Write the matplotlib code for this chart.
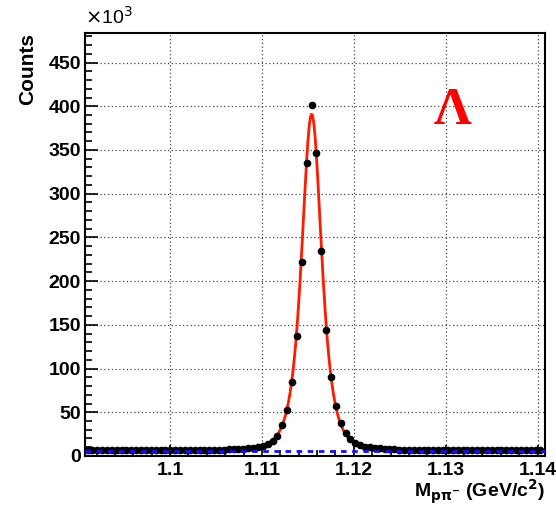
import matplotlib
matplotlib.use('Agg')
import matplotlib.pyplot as plt
import numpy as np
from matplotlib.ticker import MultipleLocator

# histogram binning (GeV/c^2)
x_lo = 1.09075
bin_width = 0.00053

# counts per bin, in units of 10^3
counts = [6.6, 6.7, 6.5, 6.6, 6.7, 6.6, 6.5, 6.6, 6.7, 6.6, 6.6, 6.7,
          6.6, 6.7, 6.6, 6.7, 6.6, 6.7, 6.7, 6.6, 6.7, 6.7, 6.8,
          6.9, 7.0, 7.1, 7.2, 7.3, 7.4, 7.6, 7.8, 8.1, 8.5, 9.0, 9.5,
          10.2, 11.3, 13.5, 17.6, 23.0, 35.0, 52.6, 85.0, 137.0, 222.0,
          335.0, 402.0,
          347.0, 234.0, 144.0, 90.0, 57.0, 37.7, 26.0, 19.6, 15.3, 12.4,
          10.8, 9.8, 9.1, 8.6, 8.2, 7.8, 7.5, 7.3, 7.1,
          7.0, 6.9, 6.9, 6.8, 6.8, 6.7, 6.8, 6.7, 6.7, 6.6, 6.7, 6.6,
          6.6, 6.7, 6.6, 6.5, 6.6, 6.6, 6.5, 6.6, 6.5, 6.6, 6.5, 6.5,
          6.6, 6.5, 6.5, 6.6]

# fit result: background + peak shape amplitude / (1 + (dx/gamma)^2)^2
fit_mean = 1.11541
fit_gamma = 0.00198
fit_amp = 385.0
fit_bkg = 5.8

xtick_vals = [1.10, 1.11, 1.12, 1.13, 1.14]
xtick_labels = ['1.1', '1.11', '1.12', '1.13', '1.14']
ytick_vals = [0, 50, 100, 150, 200, 250, 300, 350, 400, 450]

centers = x_lo + bin_width * (np.arange(len(counts)) + 0.5)
x_hi = 1.14085

xf = np.linspace(x_lo, x_hi, 1200)
yf = fit_bkg + fit_amp / (1 + ((xf - fit_mean) / fit_gamma) ** 2) ** 2

plt.rcParams['font.family'] = ['Liberation Sans', 'DejaVu Sans']

fig = plt.figure(figsize=(5.56, 5.08), dpi=100)
ax = fig.add_axes([0.153, 0.1024, 0.828, 0.833])

ax.plot(xf, yf, color='#ff1a00', linewidth=2.0, zorder=3)
ax.plot(centers, counts, 'o', color='black', markersize=4.5, zorder=4)
ax.axhline(fit_bkg, color='#1010ff', linewidth=2.0, linestyle=(0, (2, 2)), zorder=5)

ax.set_xlim(x_lo, x_hi)
ax.set_ylim(0, 484)

ax.set_xticks(xtick_vals)
ax.set_xticklabels(xtick_labels)
ax.set_yticks(ytick_vals)
ax.xaxis.set_minor_locator(MultipleLocator(0.002))
ax.yaxis.set_minor_locator(MultipleLocator(10))

ax.tick_params(axis='both', which='both', direction='in', top=False, right=False,
               labelsize=14, width=1.2)
ax.tick_params(axis='y', which='major', length=9, pad=3)
ax.tick_params(axis='y', which='minor', length=5)
ax.tick_params(axis='x', which='major', length=8, pad=4)
ax.tick_params(axis='x', which='minor', length=4)
for lbl in ax.get_xticklabels() + ax.get_yticklabels():
    lbl.set_fontweight('bold')

for sp in ax.spines.values():
    sp.set_linewidth(1.5)

ax.grid(True, which='major', color='#444444', linestyle=(0, (1, 2)), linewidth=0.9)
ax.set_axisbelow(True)

ax.set_ylabel('Counts', fontsize=15, fontweight='bold', loc='top', labelpad=8)
ax.set_xlabel(r'M$_{\mathbf{p\pi^{-}}}$ (GeV/c$^{\mathbf{2}}$)', fontsize=14,
              fontweight='bold', loc='right', labelpad=-1)

ax.text(0.0, 1.012, r'$\times$10$^{3}$', transform=ax.transAxes, fontsize=14,
        ha='left', va='bottom')
ax.text(0.798, 0.815, 'Λ', transform=ax.transAxes, color='#ff0000', fontsize=38,
        fontweight='bold', family='Liberation Serif', ha='center', va='center')

fig.savefig('out.png', dpi=100)
